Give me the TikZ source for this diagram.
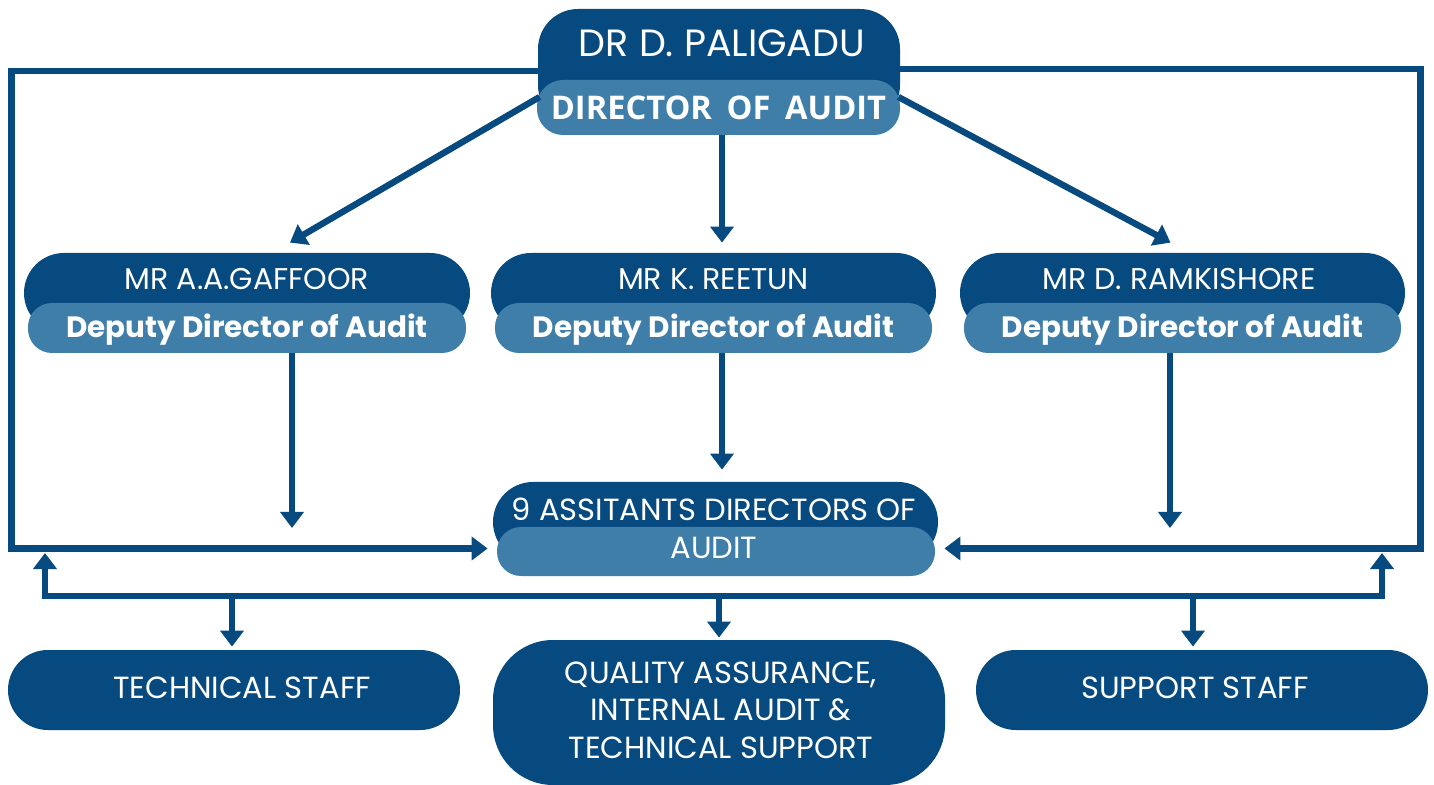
\documentclass[tikz,border=0pt]{standalone}
\usepackage{fontspec}
\setmainfont{Poppins}
\newfontfamily\osans{Open Sans}
\usetikzlibrary{arrows.meta}
\definecolor{dkb}{RGB}{7,74,128}
\definecolor{ltb}{RGB}{64,126,170}
\tikzset{
  x=0.5pt, y=-0.5pt,
  darkbox/.style={fill=dkb, draw=none, inner sep=0pt},
  lightbar/.style={fill=ltb, draw=none, inner sep=0pt, text=white, rounded corners=12pt},
  txt/.style={text=white, inner sep=0pt, align=center},
  conn/.style={draw=dkb, line width=3.2pt},
  arr/.style={conn, -{Triangle[width=11.5pt,length=8pt]}},
  dblarr/.style={conn, {Triangle[width=11.5pt,length=8pt]}-{Triangle[width=11.5pt,length=8pt]}},
}
\begin{document}
\begin{tikzpicture}
\useasboundingbox (0,0) rectangle (1434,785);
\path (719,67) node[darkbox, minimum width=181pt, minimum height=58pt, rounded corners=20pt] (topbg) {};
\coordinate (tL) at (45,553);
\coordinate (tR) at (1382,553);
\coordinate (busL) at (45,596);
\coordinate (busR) at (1382,596);
\coordinate (e1) at (292,528);
\coordinate (e3) at (1170,528);
% nodes
\node[darkbox, minimum width=223pt, minimum height=40pt, rounded corners=20pt] (dep1bg) at (247,293) {};
\node[darkbox, minimum width=222.5pt, minimum height=40pt, rounded corners=20pt] (dep2bg) at (713.5,293) {};
\node[darkbox, minimum width=222.5pt, minimum height=40pt, rounded corners=20pt] (dep3bg) at (1182.5,293) {};
\node[darkbox, minimum width=222.5pt, minimum height=40pt, rounded corners=20pt] (asbg) at (715.5,522) {};
\node[darkbox, minimum width=226pt, minimum height=40pt, rounded corners=19.9pt] (tech) at (234,690) {};
\node[darkbox, minimum width=226pt, minimum height=72.5pt, rounded corners=30pt] (qual) at (719,712.5) {};
\node[darkbox, minimum width=226pt, minimum height=40pt, rounded corners=19.9pt] (supp) at (1202,690) {};

\node[lightbar, minimum width=181.5pt, minimum height=27.5pt, rounded corners=13pt] (top) at (718.5,107.5) {};
\node[lightbar, minimum width=219pt, minimum height=25pt] (dep1) at (247,328) {};
\node[lightbar, minimum width=218.5pt, minimum height=25pt] (dep2) at (713.5,328) {};
\node[lightbar, minimum width=218.5pt, minimum height=25pt] (dep3) at (1182.5,328) {};
\node[lightbar, minimum width=219pt, minimum height=24.5pt] (as) at (716,551.5) {};

% connectors
\draw[arr] ([yshift=-2pt]topbg.west) -- ++(-526,0) |- ([xshift=-4.5pt,yshift=1.5pt]as.west);
\draw[arr] ([yshift=-1pt]topbg.east) -- ++(520,0) |- ([xshift=4.5pt,yshift=1.5pt]as.east);
\draw[dblarr] (tL) -- (busL) -- (busR) -- (tR);
\draw[arr] ([xshift=1.5pt,yshift=5.25pt]top.west) -- ([xshift=21.5pt,yshift=5pt]dep1bg.north);
\draw[arr] ([xshift=1.75pt]top.south) -- ([xshift=4.25pt,yshift=5pt]dep2bg.north);
\draw[arr] ([xshift=-1pt,yshift=5.25pt]top.east) -- ([xshift=-6pt,yshift=5pt]dep3bg.north);
\draw[arr] ([xshift=22.5pt]dep1.south) -- (e1);
\draw[arr] ([xshift=4.25pt]dep2.south) -- ([xshift=3.25pt,yshift=6pt]asbg.north);
\draw[arr] ([xshift=-6.25pt]dep3.south) -- (e3);
\draw[arr] ([xshift=-1pt]busL -| tech.north) -- ([xshift=-1pt,yshift=1.5pt]tech.north);
\draw[arr] (busL -| qual.north) -- ([yshift=1pt]qual.north);
\draw[arr] ([xshift=-4.5pt]busL -| supp.north) -- ([xshift=-4.5pt,yshift=1.5pt]supp.north);

% texts
\node[txt, font=\fontsize{19}{22}\selectfont] (topname) at (722,43) {DR D. PALIGADU};
\node[txt, font=\osans\bfseries\fontsize{16.3}{18}\selectfont] (toptitle) at (top) {DIRECTOR\hspace{0.45em}OF\hspace{0.45em}AUDIT};
\node[txt, font=\fontsize{15}{17}\selectfont] (n1) at (247,279) {MR A.A.GAFFOOR};
\node[txt, font=\fontsize{15}{17}\selectfont] (n2) at (713.5,279) {MR K. REETUN};
\node[txt, font=\fontsize{15}{17}\selectfont] (n3) at (1179,279) {MR D. RAMKISHORE};
\node[txt, font=\bfseries\fontsize{14.7}{17}\selectfont] (d1) at ([yshift=-1pt]dep1) {Deputy Director of Audit};
\node[txt, font=\bfseries\fontsize{14.7}{17}\selectfont] (d2) at ([yshift=-1pt]dep2) {Deputy Director of Audit};
\node[txt, font=\bfseries\fontsize{14.7}{17}\selectfont] (d3) at ([yshift=-1pt]dep3) {Deputy Director of Audit};
\node[txt, font=\fontsize{15.3}{19}\selectfont] (astxt) at (714,528) {9 ASSITANTS DIRECTORS OF\\AUDIT};
\node[txt, font=\fontsize{15.3}{17}\selectfont] (techtxt) at (242,688) {TECHNICAL STAFF};
\node[txt, font=\fontsize{15.3}{18.75}\selectfont] (qualtxt) at (721,710) {QUALITY ASSURANCE,\\INTERNAL AUDIT \&\\TECHNICAL SUPPORT};
\node[txt, font=\fontsize{15.3}{17}\selectfont] (supptxt) at (1195,688) {SUPPORT STAFF};
\end{tikzpicture}
\end{document}
